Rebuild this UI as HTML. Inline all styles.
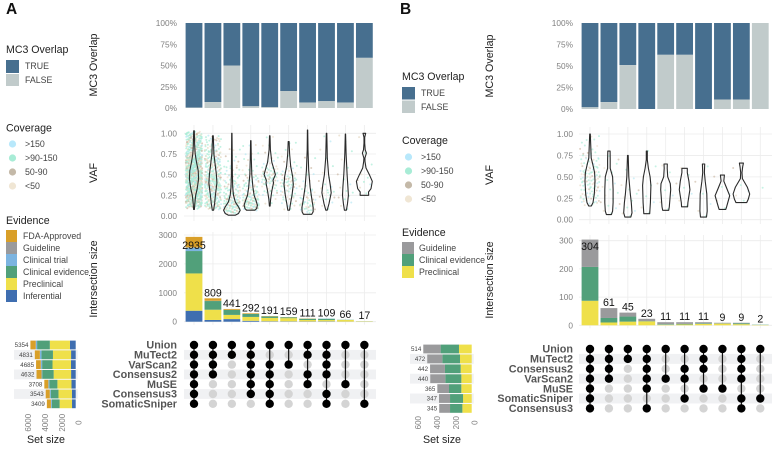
<!DOCTYPE html>
<html lang="en">
<head>
<meta charset="utf-8">
<title>MC3 overlap UpSet panels</title>
<style>
html,body{margin:0;padding:0;background:#fff;overflow:hidden;}
svg{display:block;font-family:"Liberation Sans",sans-serif;filter:blur(0.3px);}
.leg-title{font-size:10.6px;fill:#222;}
.leg-text{font-size:8.8px;fill:#444;}
.axis-title{font-size:10.7px;fill:#222;}
.panel-title{font-size:15.5px;font-weight:bold;fill:#111;}
</style>
</head>
<body>
<svg id="chart" xmlns="http://www.w3.org/2000/svg" width="780" height="450" viewBox="0 0 780 450">
  <rect width="780" height="450" fill="#fff"/>
  <text class="panel-title" x="6" y="14">A</text>
  <text class="panel-title" x="400" y="14">B</text>

  <g>
    <text class="leg-title" x="6" y="53">MC3 Overlap</text>
    <rect x="6" y="60" width="13" height="13" fill="#476f8f"/>
    <text class="leg-text" x="25" y="69">TRUE</text>
    <rect x="6" y="74" width="13" height="12" fill="#c1cbcb"/>
    <text class="leg-text" x="25" y="83">FALSE</text>
    <text class="leg-title" x="6" y="131.5">Coverage</text>
    <circle cx="12.5" cy="144" r="3.6" fill="#b8e8fb"/>
    <text class="leg-text" x="25" y="147">&gt;150</text>
    <circle cx="12.5" cy="158" r="3.6" fill="#a8ecd6"/>
    <text class="leg-text" x="25" y="161">&gt;90-150</text>
    <circle cx="12.5" cy="172" r="3.6" fill="#c4b9a8"/>
    <text class="leg-text" x="25" y="175">50-90</text>
    <circle cx="12.5" cy="186" r="3.6" fill="#f0e6d4"/>
    <text class="leg-text" x="25" y="189">&lt;50</text>
    <text class="leg-title" x="6" y="224">Evidence</text>
    <rect x="6" y="230" width="11" height="12" fill="#d99f28"/>
    <text class="leg-text" x="23" y="239">FDA-Approved</text>
    <rect x="6" y="242" width="11" height="12" fill="#9a9a9c"/>
    <text class="leg-text" x="23" y="251">Guideline</text>
    <rect x="6" y="254" width="11" height="12" fill="#7cb4e0"/>
    <text class="leg-text" x="23" y="263">Clinical trial</text>
    <rect x="6" y="266" width="11" height="12" fill="#51a07a"/>
    <text class="leg-text" x="23" y="275">Clinical evidence</text>
    <rect x="6" y="278" width="11" height="12" fill="#efe04a"/>
    <text class="leg-text" x="23" y="287">Preclinical</text>
    <rect x="6" y="290" width="11" height="12" fill="#3f6eb0"/>
    <text class="leg-text" x="23" y="299">Inferential</text>
  </g>

  <g>
    <text class="leg-title" x="402" y="80">MC3 Overlap</text>
    <rect x="402" y="87" width="13" height="12.5" fill="#476f8f"/>
    <text class="leg-text" x="421" y="96">TRUE</text>
    <rect x="402" y="100.5" width="13" height="12.5" fill="#c1cbcb"/>
    <text class="leg-text" x="421" y="110">FALSE</text>
    <text class="leg-title" x="402" y="144">Coverage</text>
    <circle cx="408.5" cy="157" r="3.6" fill="#b8e8fb"/>
    <text class="leg-text" x="421" y="160">&gt;150</text>
    <circle cx="408.5" cy="171" r="3.6" fill="#a8ecd6"/>
    <text class="leg-text" x="421" y="174">&gt;90-150</text>
    <circle cx="408.5" cy="185" r="3.6" fill="#c4b9a8"/>
    <text class="leg-text" x="421" y="188">50-90</text>
    <circle cx="408.5" cy="199" r="3.6" fill="#f0e6d4"/>
    <text class="leg-text" x="421" y="202">&lt;50</text>
    <text class="leg-title" x="402" y="236">Evidence</text>
    <rect x="402" y="242" width="12" height="12" fill="#9a9a9c"/>
    <text class="leg-text" x="419" y="251">Guideline</text>
    <rect x="402" y="254" width="12" height="12" fill="#51a07a"/>
    <text class="leg-text" x="419" y="263">Clinical evidence</text>
    <rect x="402" y="266" width="12" height="12" fill="#efe04a"/>
    <text class="leg-text" x="419" y="275">Preclinical</text>
  </g>

  <text class="axis-title" transform="translate(97,65) rotate(-90)" text-anchor="middle">MC3 Overlap</text>
  <text class="axis-title" transform="translate(97,173) rotate(-90)" text-anchor="middle">VAF</text>
  <text class="axis-title" transform="translate(97,279) rotate(-90)" text-anchor="middle">Intersection size</text>
  <text class="axis-title" x="46" y="443" text-anchor="middle">Set size</text>
  <text class="axis-title" transform="translate(493,66) rotate(-90)" text-anchor="middle">MC3 Overlap</text>
  <text class="axis-title" transform="translate(493,175) rotate(-90)" text-anchor="middle">VAF</text>
  <text class="axis-title" transform="translate(493,280) rotate(-90)" text-anchor="middle">Intersection size</text>
  <text class="axis-title" x="442" y="443" text-anchor="middle">Set size</text>
</svg>

<script>
// ---------- Shared ----------
const mc3Ticks = [0, 25, 50, 75, 100];
const vafTicks = [0, 0.25, 0.5, 0.75, 1];

// ---------- Panel A data ----------
const aMc3False = [0.5, 7, 50, 2, 1, 20, 6.5, 8, 6.5, 59];
const aCounts = [2935, 809, 441, 292, 191, 159, 111, 109, 66, 17];
const aInferential = [380, 60, 90, 30, 15, 12, 8, 12, 3, 1];
const aPreclinical = [1290, 355, 145, 135, 115, 110, 50, 45, 55, 12];
const aClinical = [775, 300, 170, 105, 50, 30, 45, 45, 8, 4];
const aTrial = [115, 0, 6, 0, 0, 0, 0, 7, 0, 0];
const aGuideline = [10, 10, 0, 0, 0, 0, 0, 0, 0, 0];
const aFda = [365, 84, 30, 22, 11, 7, 8, 0, 0, 0];
const aIntersectionTicks = [0, 1000, 2000, 3000];
const aSetNames = ["Union", "MuTect2", "VarScan2", "Consensus2", "MuSE", "Consensus3", "SomaticSniper"];
const aSetTotals = [5354, 4831, 4685, 4632, 3708, 3543, 3409];
const aSetFda = [630, 595, 555, 595, 476, 476, 476];
const aSetTrial = [160, 198, 160, 80, 119, 119, 119];
const aSetClinical = [1507, 1348, 1230, 1349, 950, 912, 912];
const aSetPreclinical = [2380, 2142, 2180, 2062, 1665, 1586, 1467];
const aSetInferential = [677, 548, 560, 546, 498, 450, 435];
const aSetTicks = [0, 2000, 4000, 6000];
const aMembers = [
  [0,1,2,3,4,5,6],[0,1,2,3],[0,1],[0,1,2,3,4,5],[0,2,3,4,5,6],
  [0,2],[0,1,3,4],[0,1,2,3,5,6],[0,4],[0,6]
];
const aViolins = [
  [[.08,.05],[.15,.1],[.25,.2],[.33,.38],[.45,.56],[.55,.5],[.65,.3],[.75,.15],[.85,.08],[1.03,.04]],
  [[.07,.08],[.15,.2],[.25,.3],[.4,.48],[.5,.42],[.6,.3],[.75,.12],[.97,.04]],
  [[.01,.4],[.03,.8],[.07,1],[.11,.8],[.17,.42],[.25,.2],[.35,.1],[.5,.06],[1,.02]],
  [[.07,.5],[.09,.7],[.13,.8],[.18,.65],[.25,.4],[.35,.25],[.5,.12],[.7,.06],[.91,.02]],
  [[.12,.04],[.2,.1],[.3,.25],[.4,.45],[.43,.4],[.5,.68],[.55,.55],[.65,.25],[.8,.08],[.97,.03]],
  [[.07,.1],[.15,.22],[.25,.4],[.38,.56],[.48,.48],[.6,.25],[.75,.12],[.9,.06]],
  [[.02,.5],[.05,.66],[.1,.68],[.2,.52],[.35,.3],[.55,.14],[.8,.05],[1.04,.02]],
  [[.07,.08],[.15,.3],[.28,.56],[.38,.45],[.5,.25],[.7,.1],[1,.03]],
  [[.07,.12],[.15,.25],[.25,.36],[.35,.3],[.5,.2],[.75,.08],[.99,.02]],
  [[.25,.52],[.29,.5],[.33,.8],[.42,.96],[.5,.6],[.58,.2],[.66,.08],[.7,.06],[.76,.24],[.8,.1],[.88,.04],[.95,.04],[1,.16]]
];
const aVafPoints = [
  [.1,.12,.14,.15,.16,.17,.18,.19,.2,.21,.22,.23,.24,.25,.26,.27,.28,.29,.3,.31,.32,.33,.34,.35,.36,.37,.38,.39,.4,.41,.42,.43,.44,.45,.46,.47,.48,.49,.5,.51,.52,.53,.54,.55,.56,.57,.58,.59,.6,.61,.62,.63,.64,.65,.66,.67,.68,.69,.7,.71,.72,.73,.74,.75,.77,.79,.8,.82,.84,.85,.87,.89,.9,.92,.94,.95,.97,.99,1,1,.13,.17,.19,.21,.23,.26,.28,.31,.33,.35,.37,.39,.41,.43,.44,.46,.47,.49,.5,.52,.53,.55,.57,.58,.6,.62,.64,.66,.68,.7,.74,.78,.83,.88,.93,.98,.15,.2,.25,.3,.35,.4,.45,.48,.5,.52,.55,.6,.65,.7,.11,.16,.22,.27,.32,.36,.42,.47,.51,.56,.61,.67,.72,.8,.9,.18,.24,.29,.34,.38,.41,.44,.46,.54,.59,.63,.69,.76,.86,.96,.12,.2,.26,.33,.4,.43,.49,.53,.58,.64,.71,.81,.91],
  [.08,.1,.12,.14,.16,.18,.2,.22,.24,.26,.28,.3,.31,.32,.33,.34,.35,.36,.37,.38,.39,.4,.41,.42,.43,.44,.45,.46,.47,.48,.49,.5,.52,.54,.56,.58,.6,.62,.64,.66,.68,.7,.72,.75,.78,.8,.83,.86,.9,.93,.96,.09,.13,.17,.21,.25,.29,.33,.37,.41,.45,.49,.53,.57,.61,.65,.69,.73,.77,.85,.11,.15,.19,.23,.27,.35,.43,.51,.59,.67,.79,.92],
  [.03,.04,.05,.06,.07,.08,.09,.1,.11,.12,.13,.14,.15,.16,.17,.18,.19,.2,.21,.22,.24,.26,.28,.3,.32,.34,.36,.38,.4,.43,.46,.5,.55,.6,.66,.72,.8,.05,.07,.09,.11,.13,.15,.17,.19,.23,.27,.31,.35,.42,.48,.58],
  [.07,.08,.09,.1,.11,.12,.13,.14,.15,.16,.17,.18,.19,.2,.21,.22,.23,.24,.25,.27,.29,.31,.33,.35,.37,.4,.43,.46,.5,.55,.6,.68,.75,.85,.1,.12,.14,.16,.18,.2,.26,.3,.36,.42,.48],
  [.15,.2,.25,.28,.3,.33,.35,.37,.39,.4,.42,.43,.44,.45,.46,.47,.48,.49,.5,.51,.52,.54,.56,.58,.6,.63,.66,.7,.76,.85,.95,.3,.38,.41,.44,.47,.53,.57],
  [.08,.12,.15,.18,.2,.23,.25,.27,.29,.31,.33,.35,.36,.37,.38,.39,.4,.41,.42,.43,.44,.46,.48,.5,.52,.54,.57,.6,.65,.72,.8,.88,.22,.3,.34,.45,.49],
  [.03,.05,.07,.08,.1,.11,.12,.14,.15,.17,.19,.2,.22,.25,.28,.32,.36,.42,.5,.58,.7,.06,.09,.13,.16,.21,.3],
  [.08,.12,.16,.2,.23,.25,.27,.29,.31,.33,.35,.38,.42,.46,.52,.6,.7,.8,.9,.96,.22,.28,.34],
  [.08,.12,.16,.2,.22,.24,.26,.28,.3,.34,.38,.44,.5,.58,.68,.78,.9,.97],
  [.27,.34,.38,.41,.43,.46,.5,.62,.76,.95]
];
const aPointCopies = [6, 4, 3, 3, 2, 2, 2, 1, 1, 1];

// ---------- Panel B data ----------
const bMc3False = [2, 8, 51, 0, 63, 63, 0, 11, 11, 100];
const bCounts = [304, 61, 45, 23, 11, 11, 11, 9, 9, 2];
const bPreclinical = [87, 10, 13, 14, 2, 3, 5, 6, 4, 1];
const bClinical = [120, 16, 18, 1, 2, 2, 2, 1, 3, 1];
const bGuideline = [97, 35, 14, 8, 7, 6, 4, 2, 2, 0];
const bIntersectionTicks = [0, 100, 200, 300];
const bSetNames = ["Union", "MuTect2", "Consensus2", "VarScan2", "MuSE", "SomaticSniper", "Consensus3"];
const bSetTotals = [514, 472, 442, 440, 365, 347, 345];
const bSetGuideline = [184, 160, 158, 160, 124, 117, 115];
const bSetClinical = [195, 188, 167, 170, 131, 138, 131];
const bSetPreclinical = [135, 124, 117, 110, 110, 92, 99];
const bSetTicks = [0, 200, 400, 600];
const bMembers = [
  [0,1,2,3,4,5,6],[0,1,2,3],[0,1],[0,1,2,3,4,6],[0,3],
  [0,2,3,5],[0,1,2,4],[0,4],[0,1,2,3,5,6],[0,5]
];
const bViolins = [
  [[.16,.16],[.2,.36],[.3,.52],[.45,.6],[.55,.56],[.65,.32],[.72,.14],[.85,.1],[1,.04]],
  [[.06,.3],[.1,.44],[.2,.5],[.35,.5],[.5,.44],[.6,.16],[.7,.16],[.8,.14]],
  [[.03,.36],[.08,.5],[.2,.42],[.3,.3],[.5,.12],[.75,.04]],
  [[.07,.36],[.2,.44],[.4,.5],[.5,.4],[.6,.2],[.7,.06],[.8,.06]],
  [[.11,.36],[.15,.44],[.35,.6],[.42,.56],[.5,.24],[.6,.18],[.65,.2]],
  [[.15,.36],[.2,.4],[.35,.64],[.45,.52],[.55,.32],[.6,.32]],
  [[.03,.36],[.1,.44],[.3,.4],[.45,.2],[.55,.1],[.65,.14]],
  [[.12,.4],[.15,.5],[.28,.88],[.37,.5],[.45,.16],[.52,.24]],
  [[.2,.64],[.24,.84],[.3,1],[.38,.72],[.48,.12],[.55,.08],[.62,.16],[.66,.24]],
  []
];
const bVafPoints = [
  [.17,.19,.2,.22,.24,.25,.27,.28,.3,.31,.33,.34,.35,.36,.38,.39,.4,.41,.42,.43,.44,.45,.46,.47,.48,.49,.5,.51,.52,.53,.54,.55,.56,.57,.58,.6,.62,.64,.66,.68,.7,.72,.75,.78,.82,.86,.9,.93,.97,.21,.26,.29,.37,.44,.5,.55,.61,.65,.71,.77],
  [.07,.1,.13,.16,.2,.24,.28,.31,.35,.38,.42,.46,.5,.55,.6,.65,.74],
  [.04,.07,.1,.14,.18,.22,.26,.3,.35,.4,.48,.58,.7],
  [.08,.14,.2,.27,.34,.4,.5,.62,.8],
  [.12,.2,.28,.34,.42,.55,.63],
  [.16,.22,.3,.37,.42,.52,.6],
  [.04,.1,.18,.3,.44,.62],
  [.13,.22,.3,.38,.5],
  [.22,.28,.33,.4,.6],
  [.37]
];
const bPointCopies = [2, 1, 1, 1, 1, 1, 1, 1, 1, 1];

// ---------- Drawing ----------
const NS = "http://www.w3.org/2000/svg";
const svg = document.getElementById("chart");
const gridColor = "#ececec";
const evidenceColor = {fda:"#d99f28", guideline:"#9a9a9c", trial:"#7cb4e0", clinical:"#51a07a", preclinical:"#efe04a", inferential:"#3f6eb0"};
const coverageCycle = ["#a8ecd6","#e6d8c2","#b8e8f4","#a8ecd6","#cdb9a5","#a8ecd6","#efe2cf","#a8ecd6"];

function mk(parent, tag, attrs, text) {
  const el = document.createElementNS(NS, tag);
  for (const k in attrs) el.setAttribute(k, attrs[k]);
  if (text !== undefined) el.textContent = text;
  parent.appendChild(el);
  return el;
}

function tickText(parent, x, y, label) {
  const el = mk(parent, "text", {x:x, y:y, "text-anchor":"end", "font-size":8.3, fill:"#808080"}, label);
  
  
  return el;
}

function drawPanel(c) {
  const root = mk(svg, "g", {});
  
  
  const colX = i => c.x0 + i * c.step;
  const barW = 16.8;
  const tickRight = colX(0) - 17;

  // MC3 overlap
  const yMc3 = v => c.mc3Y0 + (c.mc3Y100 - c.mc3Y0) * v / 100;
  mc3Ticks.forEach(t => tickText(root, tickRight, yMc3(t) + 3, t + "%"));
  c.mc3False.forEach((f, i) => {
    const t = mk(root, "rect", {x:colX(i)-barW/2, y:yMc3(100), width:barW, height:yMc3(f)-yMc3(100), fill:"#476f8f"});
    
    
    const b = mk(root, "rect", {x:colX(i)-barW/2, y:yMc3(f), width:barW, height:yMc3(0)-yMc3(f), fill:"#c1cbcb"});
    
    
  });

  // VAF
  const yVaf = v => c.vafY0 + (c.vafY1 - c.vafY0) * v;
  vafTicks.forEach(t => {
    const g = mk(root, "line", {x1:c.panelL, x2:c.panelR, y1:yVaf(t), y2:yVaf(t), stroke:gridColor, "stroke-width":0.8});
    
    
    tickText(root, tickRight, yVaf(t) + 3, t.toFixed(2));
  });
  c.vafPoints.forEach((pts, i) => {
    const g = mk(root, "line", {x1:colX(i), x2:colX(i), y1:c.vafTop, y2:c.vafBottom, stroke:gridColor, "stroke-width":0.8});
    
    
  });
  c.vafPoints.forEach((pts, i) => {
    const copies = c.pointCopies[i];
    pts.forEach((v, j) => {
      for (let k = 0; k < copies; k++) {
        const frac = ((j * copies + k + 1) * 0.618034) % 1;
        const p = mk(root, "circle", {cx:colX(i) + (frac - 0.5) * c.jitter, cy:yVaf(v) + (k - copies / 2) * 0.5, r:1, fill:coverageCycle[(j + k) % coverageCycle.length], opacity:c.pointOpacity});
        
        
      }
    });
  });
  c.violins.forEach((prof, i) => {
    if (!prof.length) return;
    const k = 8.3;
    const right = prof.map(q => (colX(i) + q[1]*k).toFixed(1) + "," + yVaf(q[0]).toFixed(1));
    const left = prof.slice().reverse().map(q => (colX(i) - q[1]*k).toFixed(1) + "," + yVaf(q[0]).toFixed(1));
    const v = mk(root, "polygon", {points:right.concat(left).join(" "), fill:"none", stroke:"#2a2a2a", "stroke-width":1.1, "stroke-linejoin":"round"});
    
    
  });

  // Intersection size
  const yInt = v => c.intY0 - v * c.intScale;
  c.intTicks.forEach(t => {
    const g = mk(root, "line", {x1:c.panelL, x2:c.panelR, y1:yInt(t), y2:yInt(t), stroke:gridColor, "stroke-width":0.8});
    
    
    tickText(root, tickRight, yInt(t) + 3, String(t));
  });
  c.counts.forEach((n, i) => {
    const g = mk(root, "line", {x1:colX(i), x2:colX(i), y1:c.intTop, y2:c.intY0 + 3, stroke:gridColor, "stroke-width":0.8});
    
    
  });
  c.counts.forEach((n, i) => {
    let base = 0;
    c.stacks.forEach(s => {
      const h = s.values[i];
      if (!h) return;
      const r = mk(root, "rect", {x:colX(i)-barW/2, y:yInt(base+h), width:barW, height:h*c.intScale, fill:s.color});
      
      
      base += h;
    });
    const lab = mk(root, "text", {x:colX(i), y:Math.max(yInt(n) - 2, c.labelFloor), "text-anchor":"middle", "font-size":10.6, fill:"#111"}, String(n));
    
    
  });

  // Row bands, set names and set-size bars
  const yRow = r => c.rowY0 + r * c.rowStep;
  c.setNames.forEach((name, r) => {
    if (r % 2 === 1) {
      const b1 = mk(root, "rect", {x:c.panelL, y:yRow(r)-c.rowStep/2, width:c.panelR-c.panelL, height:c.rowStep, fill:"#f0f1f3"});
      
      
      const b2 = mk(root, "rect", {x:c.setBandL, y:yRow(r)-c.rowStep/2, width:c.setX0+2-c.setBandL, height:c.rowStep, fill:"#f0f1f3"});
      
      
    }
    const t = mk(root, "text", {x:tickRight, y:yRow(r)+3.7, "text-anchor":"end", "font-size":10.8, "font-weight":"bold", fill:"#555"}, name);
    
    

    const xSet = v => c.setX0 - v * c.setScale;
    let base = 0;
    c.setStacks.forEach(s => {
      const h = s.values[r];
      const q = mk(root, "rect", {x:xSet(base+h), y:yRow(r)-4.4, width:h*c.setScale, height:8.8, fill:s.color});
      
      
      base += h;
    });
    const lab = mk(root, "text", {x:xSet(c.setTotals[r])-2, y:yRow(r)+2.2, "text-anchor":"end", "font-size":6.2, fill:"#444"}, String(c.setTotals[r]));
    
    
  });
  c.setTicks.forEach(t => {
    const x = c.setX0 - t * c.setScale + c.setTickShift;
    const e = mk(root, "text", {transform:"translate(" + (x + 3) + "," + c.setTickY + ") rotate(-90)", "text-anchor":"middle", "font-size":8, fill:"#808080"}, String(t));
    
    
  });

  // Matrix
  c.members.forEach((mem, i) => {
    c.setNames.forEach((name, r) => {
      if (!mem.includes(r)) {
        const d = mk(root, "circle", {cx:colX(i), cy:yRow(r), r:4.2, fill:"#d4d4d4"});
        
        
      }
    });
    const ln = mk(root, "line", {x1:colX(i), x2:colX(i), y1:yRow(Math.min.apply(null, mem)), y2:yRow(Math.max.apply(null, mem)), stroke:"#111", "stroke-width":1.2});
    
    
    mem.forEach(r => {
      const d = mk(root, "circle", {cx:colX(i), cy:yRow(r), r:4.2, fill:"#000"});
      
      
    });
  });
}

drawPanel({
  id:"panel-a", x0:194, step:18.93, panelL:184, panelR:376,
  mc3Y0:108, mc3Y100:23, vafY0:216, vafY1:133.3, vafTop:125, vafBottom:221,
  intY0:321.7, intScale:0.0289, intTop:232, labelFloor:249,
  rowY0:345, rowStep:9.8,
  setX0:75.7, setScale:0.00846, setBandL:14, setTickShift:3, setTickY:422.7,
  mc3False:aMc3False, counts:aCounts, violins:aViolins, vafPoints:aVafPoints,
  pointCopies:aPointCopies, jitter:16.5, pointOpacity:0.7,
  intTicks:aIntersectionTicks, setNames:aSetNames, setTotals:aSetTotals, setTicks:aSetTicks, members:aMembers,
  stacks:[
    {values:aInferential, color:evidenceColor.inferential},
    {values:aPreclinical, color:evidenceColor.preclinical},
    {values:aClinical, color:evidenceColor.clinical},
    {values:aTrial, color:evidenceColor.trial},
    {values:aGuideline, color:evidenceColor.guideline},
    {values:aFda, color:evidenceColor.fda}
  ],
  setStacks:[
    {values:aSetInferential, color:evidenceColor.inferential},
    {values:aSetPreclinical, color:evidenceColor.preclinical},
    {values:aSetClinical, color:evidenceColor.clinical},
    {values:aSetTrial, color:evidenceColor.trial},
    {values:aSetFda, color:evidenceColor.fda}
  ]
});

drawPanel({
  id:"panel-b", x0:590, step:18.92, panelL:579, panelR:772,
  mc3Y0:109, mc3Y100:23, vafY0:219.7, vafY1:134, vafTop:127, vafBottom:224,
  intY0:325.3, intScale:0.282, intTop:235, labelFloor:250,
  rowY0:349, rowStep:9.9,
  setX0:471.7, setScale:0.0942, setBandL:410, setTickShift:3, setTickY:422.7,
  mc3False:bMc3False, counts:bCounts, violins:bViolins, vafPoints:bVafPoints,
  pointCopies:bPointCopies, jitter:20, pointOpacity:0.65,
  intTicks:bIntersectionTicks, setNames:bSetNames, setTotals:bSetTotals, setTicks:bSetTicks, members:bMembers,
  stacks:[
    {values:bPreclinical, color:evidenceColor.preclinical},
    {values:bClinical, color:evidenceColor.clinical},
    {values:bGuideline, color:evidenceColor.guideline}
  ],
  setStacks:[
    {values:bSetPreclinical, color:evidenceColor.preclinical},
    {values:bSetClinical, color:evidenceColor.clinical},
    {values:bSetGuideline, color:evidenceColor.guideline}
  ]
});
</script>
</body>
</html>
